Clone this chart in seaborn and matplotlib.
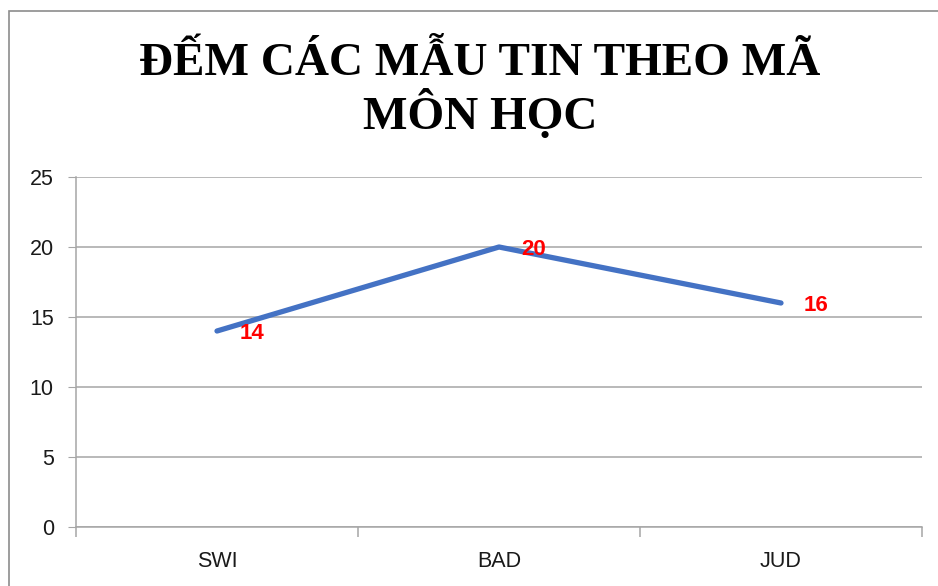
import matplotlib
matplotlib.use("Agg")
import matplotlib.pyplot as plt
import seaborn as sns
import pandas as pd
from matplotlib.patches import Rectangle

# Dữ liệu
ma_mon = ["SWI", "BAD", "JUD"]
so_mau_tin = [14, 20, 16]
y_ticks = [0, 5, 10, 15, 20, 25]
tieu_de = "ĐẾM CÁC MẪU TIN THEO MÃ\nMÔN HỌC"

df = pd.DataFrame({"ma": ma_mon, "dem": so_mau_tin})
df["vi_tri"] = range(len(df))

sns.set_style("white")
plt.rcParams["font.family"] = ["Liberation Sans", "DejaVu Sans"]

fig = plt.figure(figsize=(9.38, 5.86), dpi=100)
ax = fig.add_axes([76 / 938, 1 - 527 / 586, (922 - 76) / 938, (527 - 177) / 586])

# khung biểu đồ
fig.patches.append(Rectangle((9 / 938, -0.05), 1.2, 1 - 11 / 586 + 0.05,
                             transform=fig.transFigure, fill=False,
                             edgecolor="#8c8c8c", linewidth=1.2))

sns.lineplot(data=df, x="vi_tri", y="dem", ax=ax, color="#4472C4",
             linewidth=3.8, solid_capstyle="round")

for x, y in zip(df["vi_tri"], df["dem"]):
    ax.annotate(str(y), (x, y), xytext=(16, -2), textcoords="offset points",
                ha="left", va="center", color="#FF0000", fontsize=16,
                fontweight="bold")

ax.set_xlim(-0.5, len(ma_mon) - 0.5)
ax.set_ylim(0, 25)
ax.set_yticks(y_ticks)
ax.set_xticks(df["vi_tri"])
ax.set_xticklabels(ma_mon)
ax.set_xticks([i - 0.5 for i in range(len(ma_mon) + 1)], minor=True)
ax.grid(axis="y", color="#a6a6a6", linewidth=1.1)
ax.set_axisbelow(True)

for s in ["top", "right"]:
    ax.spines[s].set_visible(False)
for s in ["left", "bottom"]:
    ax.spines[s].set_color("#a6a6a6")
    ax.spines[s].set_linewidth(1.1)

ax.tick_params(axis="y", which="major", left=True, length=6, color="#a6a6a6",
               labelsize=15.5, labelcolor="#1a1a1a", pad=10)
ax.tick_params(axis="x", which="major", bottom=False, labelsize=15.5,
               labelcolor="#1a1a1a", pad=14)
ax.tick_params(axis="x", which="minor", bottom=True, length=7,
               color="#a6a6a6", width=1.1)
ax.set_xlabel("")
ax.set_ylabel("")

fig.text(480 / 938, 1 - 91 / 586, tieu_de, ha="center", va="center",
         fontsize=34, fontweight="bold", color="black",
         family=["Liberation Serif", "DejaVu Serif"], linespacing=1.1)

fig.savefig("out.png", dpi=100)
